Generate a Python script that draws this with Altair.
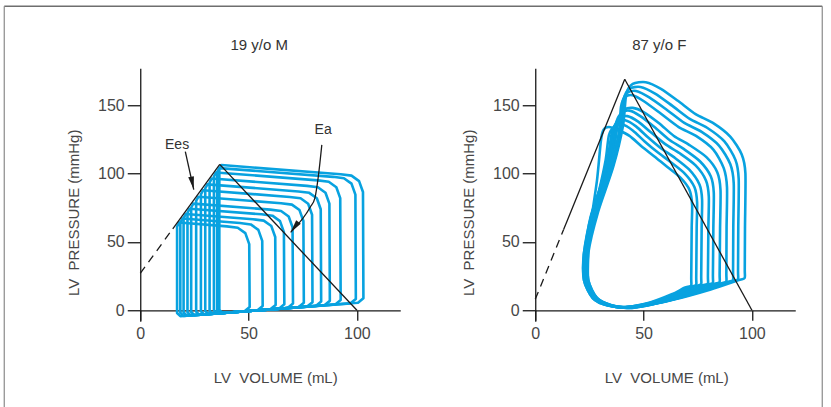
import altair as alt
import pandas as pd

FONT = "Liberation Sans"
BLUE = "#08a2e0"
INK = "#1a1a1a"
TXT = "#474747"

# ---------------- left panel (19 y/o M): loops as (volume mL, pressure mmHg) ----------------
L0 = [(36.5,103.2),(36.5,0.3),(38,-2.0),(100.5,5.5),(103,8.8),(102.8,86.5),(101,94.5),(97.5,98.5),(92.5,99.5),(37.5,106.2)]
L1 = [(35.5,101),(35.5,0.2),(37,-2.1),(97,5.1),(99.5,8.3),(99.3,84.6),(97.5,92.6),(94,96.6),(89,97.6),(36.5,104)]
L2 = [(34,97.8),(34,0),(35.5,-2.3),(90,4.3),(92.5,7.5),(92.3,82),(90.5,90),(87,94),(82,95),(35,100.8)]
L3 = [(32,93.4),(32,-0.2),(33.5,-2.5),(85,3.7),(87.5,6.9),(87.3,78),(85.5,86),(82,90),(77,91),(33,96.4)]
L4 = [(30,89.1),(30,-0.4),(31.5,-2.8),(81,3.2),(83.5,6.4),(83.3,73.9),(81.5,81.9),(78,85.9),(73,86.9),(31,92.1)]
L5 = [(28,84.8),(28,-0.7),(29.5,-3.0),(77,2.7),(79.5,5.9),(79.3,69.9),(77.5,77.9),(74,81.9),(69,82.9),(29,87.8)]
L6 = [(25.8,80),(25.8,-0.9),(27.3,-3.3),(73,2.2),(75.5,5.5),(75.3,65.3),(73.5,73.3),(70,77.3),(65,78.3),(26.8,83)]
L7 = [(23.5,75),(23.5,-1.2),(25,-3.5),(68,1.6),(70.5,4.9),(70.3,60.6),(68.5,68.6),(65,72.6),(60,73.6),(24.5,78)]
L8 = [(21.8,71.3),(21.8,-1.4),(23.3,-3.7),(64,1.1),(66.5,4.4),(66.3,57.2),(64.5,65.2),(61,69.2),(56,70.2),(22.8,74.3)]
L9 = [(20,67.4),(20,-1.6),(21.5,-4.0),(60,0.7),(62.5,3.9),(62.3,53.6),(60.5,61.6),(57,65.6),(52,66.6),(21,70.4)]
L10 = [(18.5,64.1),(18.5,-1.8),(20,-4.1),(54,-0.1),(56.5,3.2),(56.3,50.8),(54.5,58.8),(51,62.8),(46,63.8),(19.5,67.1)]
L11 = [(17,61.2),(17,-2.0),(18.5,-4.3),(48,-0.8),(50.5,2.5),(50.3,48.4),(48.5,56.4),(45,60.4),(40,61.4),(18,64.2)]
LEFT_LOOPS = [L0, L1, L2, L3, L4, L5, L6, L7, L8, L9, L10, L11]

LEFT_EES_DASH = [(0, 27.0), (15.0, 59.6)]
LEFT_EES_SOLID = [(15.0, 59.6), (36.7, 106.7)]
LEFT_EA = [(36.7, 106.7), (100.0, 0.0)]
EES_ARROW = [(20.8, 116.0), (24.7, 88.3)]
EA_ARROW = [(83.8, 121.0), (82.2, 98.0), (80.6, 82.0), (78.5, 75.5), (69.4, 57.0)]
ARROW_TIPS_V = [24.7, 69.4]
ARROW_TIPS_P = [88.3, 57.0]
ARROW_TIPS_ANGLE = [168, 217]
LABELS_TEXT = ["Ees", "Ea"]
LABELS_V = [17.0, 84.4]
LABELS_P = [121.0, 131.5]

# ---------------- right panel (87 y/o F) ----------------
R0 = [(45,1.8),(63,7.5),(81,15.3),(93.6,22),(96.6,23.5),(96.7,30),(96.8,60),(97,100),(95.3,114),(90,127),(82,137),(74,143.5),(66,153),(58,162),(51,166.8),(45,165.5),(42,158),(40.5,135),(36,105),(29,72),(24.5,42),(24.5,22),(28.5,9),(35.5,3.5)]
R1 = [(44.5,1.8),(61.5,7),(78.5,14.6),(90.5,21),(93.5,22.5),(93.6,29),(93.7,60),(93.9,96),(92.4,110),(87.3,123.5),(79.3,133.5),(71.3,140),(63.3,149.5),(55.3,158.5),(48.5,163.3),(43.5,162),(41,155),(39.8,133),(35.5,104),(28.5,72),(24,42),(24,22),(28,9),(35,3.5)]
R2 = [(44,1.9),(60.5,6.8),(77,14.3),(88.2,20.5),(91.2,22),(91.3,28),(91.4,60),(91.6,93),(90,107),(84.8,120.5),(76.8,130.5),(68.8,137),(60.8,146.5),(52.8,155.5),(46.5,160.3),(42.5,159),(40.3,152),(39.2,131),(35,103),(28,71),(23.5,42),(23.5,22),(27.5,9),(34.5,3.5)]
R3 = [(44,2),(59.5,6.5),(75,13.6),(85.1,19.5),(88.1,21),(88.2,27),(88.3,60),(88.5,90),(87,104),(82.2,117.5),(74.2,127.5),(66.2,134),(58.2,143.5),(50.5,152.5),(45,157.3),(41.5,156),(39.6,149),(38.5,129),(34.5,102),(27.5,70),(23,42),(23,22),(27,9),(34,3.5)]
R4 = [(43.5,2.1),(58,6.3),(73,13.3),(82,19),(85,20.5),(85.1,26.5),(85.3,60),(85.5,88),(84,101),(79,112),(71,121),(64,127.5),(57,137),(50,145),(45,148),(41,146.5),(38.5,140),(36.5,120),(32.5,96),(26.5,70),(22.5,42),(22.5,22),(26.5,9),(33.5,3.5)]
R5 = [(43.5,2.2),(57,6.2),(70.5,13),(78.9,18.5),(81.9,20),(82,26),(82.2,60),(82.4,86),(81,98),(76,109),(68.5,118),(62,124.5),(55,134),(48.5,142),(43.5,146),(40,144.5),(37.5,138),(35.5,118),(31.5,95),(26,70),(22.5,42),(22.5,22),(26.5,9),(33.5,3.5)]
R6 = [(43,2.3),(56,6),(68.5,12.7),(76.6,18),(79.6,19.5),(79.7,25.5),(79.9,60),(80.1,83),(78.8,95),(74,106),(66.5,115),(60,121.5),(53.5,130),(47.5,138),(42.5,142),(39,140.5),(36.5,134),(34.5,115),(30.5,92),(25.5,68),(23,42),(23,22),(27,9),(34,3.5)]
R7 = [(43,2.4),(55,6),(66.5,12.4),(73.5,17.5),(76.5,19),(76.6,25),(76.8,60),(77,81),(75.8,92),(71,103),(64,112),(58,118.5),(52,126.5),(46.5,134.5),(41.5,139),(38,137.5),(35.5,131),(33.5,112),(30,90),(25.5,66),(23.5,42),(23.5,22),(27.5,9),(34.5,3.5)]
R8 = [(42.5,2.5),(54,5.8),(65,12),(71.2,17),(74.2,18.5),(74.3,24.5),(74.5,60),(74.7,79),(73.5,90),(69,100),(62,109),(56.5,115.5),(50.5,123.5),(45,131.5),(40,136),(36.5,134.5),(34,128),(32.5,110),(29.5,88),(25.5,64),(24,42),(24,22),(28,9),(35,3.5)]
R9 = [(42.5,2.6),(53,5.8),(63,11.7),(68.9,16.5),(71.9,18),(72,24),(72.2,60),(72.4,77),(71.2,88),(67,97),(60,106),(55,112.5),(49,120),(43.5,127.5),(38,132),(34,134),(31.5,132),(30.3,124),(28.5,95),(25.5,62),(24.5,42),(24.5,22),(28.5,9),(35.5,3.5)]
RIGHT_LOOPS = [R0, R1, R2, R3, R4, R5, R6, R7, R8, R9]

RIGHT_EES_DASH = [(0, 8.0), (13.1, 59.1)]
RIGHT_EES_SOLID = [(13.1, 59.1), (41.3, 169.0)]
RIGHT_EA = [(41.3, 169.0), (100.0, 0.0)]

PANEL_TITLES = ["19 y/o M", "87 y/o F"]
X_TICKS = [0, 50, 100]
Y_TICKS = [0, 50, 100, 150]
X_DOMAIN = [0, 120]
Y_DOMAIN = [-8, 177]

W, H = 260, 253
ARROW_PATH = "M0,0L0.42,1.9L-0.42,1.9Z"


def loops_df(loops):
    return pd.DataFrame([{"loop": i, "idx": j, "v": v, "p": p}
                         for i, lp in enumerate(loops) for j, (v, p) in enumerate(lp)])


def seg_df(pts):
    return pd.DataFrame([{"idx": j, "v": v, "p": p} for j, (v, p) in enumerate(pts)])


ax_common = dict(grid=False, domainColor=INK, domainWidth=1.3, tickColor=INK, tickWidth=1.3,
                 labelFont=FONT, labelFontSize=16, labelColor=TXT, titleFont=FONT,
                 titleFontSize=15, titleFontWeight="normal", titleColor=TXT, labelFlush=False)


def encs(title_x):
    x = alt.X("v:Q", scale=alt.Scale(domain=X_DOMAIN, nice=False, zero=False),
              axis=alt.Axis(values=X_TICKS, title="LV\u00a0 VOLUME (mL)", offset=-10.94,
                            tickSize=10, labelPadding=5, titlePadding=29, titleX=title_x,
                            **ax_common))
    y = alt.Y("p:Q", scale=alt.Scale(domain=Y_DOMAIN, nice=False, zero=False),
              axis=alt.Axis(values=Y_TICKS, title="LV\u00a0 PRESSURE (mmHg)", tickSize=13,
                            labelPadding=3, titlePadding=16, titleY=144, **ax_common))
    return x, y


def panel(loops, interp, dash, solid, ea, title, title_cx, title_x, extra=None):
    x, y = encs(title_x)
    mark_kw = dict(interpolate=interp, color=BLUE, strokeWidth=2.6, strokeJoin="round")
    if interp == "cardinal-closed":
        mark_kw["tension"] = 0.25
    tdf = pd.DataFrame({"t": [title]})
    layers = [
        alt.Chart(loops_df(loops)).mark_line(**mark_kw).encode(
            x=x, y=y, detail="loop:N", order="idx:Q"),
        alt.Chart(seg_df(dash)).mark_line(color=INK, strokeWidth=1.3, strokeDash=[8, 6]).encode(
            x=x, y=y, order="idx:Q"),
        alt.Chart(seg_df(solid)).mark_line(color=INK, strokeWidth=1.3).encode(
            x=x, y=y, order="idx:Q"),
        alt.Chart(seg_df(ea)).mark_line(color=INK, strokeWidth=1.3).encode(
            x=x, y=y, order="idx:Q"),
        # panel title
        alt.Chart(tdf).mark_text(font=FONT, fontSize=15, color="#333333", baseline="middle").encode(
            x=alt.value(title_cx), y=alt.value(-23), text="t:N"),
    ]
    if extra:
        layers += extra(x, y)
    return alt.layer(*layers).properties(width=W, height=H)


def left_extras(x, y):
    frame = pd.DataFrame({"k": [0]})
    arrowheads = pd.DataFrame({"v": ARROW_TIPS_V, "p": ARROW_TIPS_P, "ang": ARROW_TIPS_ANGLE})
    labels = pd.DataFrame({"v": LABELS_V, "p": LABELS_P, "t": LABELS_TEXT})
    return [
        alt.Chart(seg_df(EES_ARROW)).mark_line(color=INK, strokeWidth=1.3).encode(
            x=x, y=y, order="idx:Q"),
        alt.Chart(seg_df(EA_ARROW)).mark_line(color=INK, strokeWidth=1.3, strokeJoin="round",
                                               interpolate="monotone").encode(
            x=x, y=y, order="idx:Q"),
        alt.Chart(arrowheads).mark_point(shape=ARROW_PATH, filled=True, size=190, color=INK,
                                         opacity=1, strokeWidth=0).encode(
            x=x, y=y, angle=alt.Angle("ang:Q", scale=None)),
        alt.Chart(labels).mark_text(font=FONT, fontSize=14, color="#333333").encode(
            x=x, y=y, text="t:N"),
        # figure frame
        alt.Chart(frame).mark_rule(color="#6e6e6e", strokeWidth=1.5).encode(
            x=alt.value(-136), x2=alt.value(682), y=alt.value(-62)),
        alt.Chart(frame).mark_rule(color="#8a8a8a", strokeWidth=1.2).encode(
            x=alt.value(-136), y=alt.value(-62), y2=alt.value(345)),
        alt.Chart(frame).mark_rule(color="#8a8a8a", strokeWidth=1.2).encode(
            x=alt.value(682), y=alt.value(-62), y2=alt.value(345)),
    ]


left = panel(LEFT_LOOPS, "linear-closed", LEFT_EES_DASH, LEFT_EES_SOLID, LEFT_EA,
             PANEL_TITLES[0], 119, 135, extra=left_extras)
right = panel(RIGHT_LOOPS, "cardinal-closed", RIGHT_EES_DASH, RIGHT_EES_SOLID, RIGHT_EA,
              PANEL_TITLES[1], 124, 131)

chart = alt.hconcat(left, right, spacing=135, bounds="flush").properties(
    padding={"left": 3.25, "top": 5.25, "right": 0, "bottom": 0},
    background="white",
).configure_view(stroke=None)

chart.save("out.html", embed_options={"renderer": "svg", "actions": False})
